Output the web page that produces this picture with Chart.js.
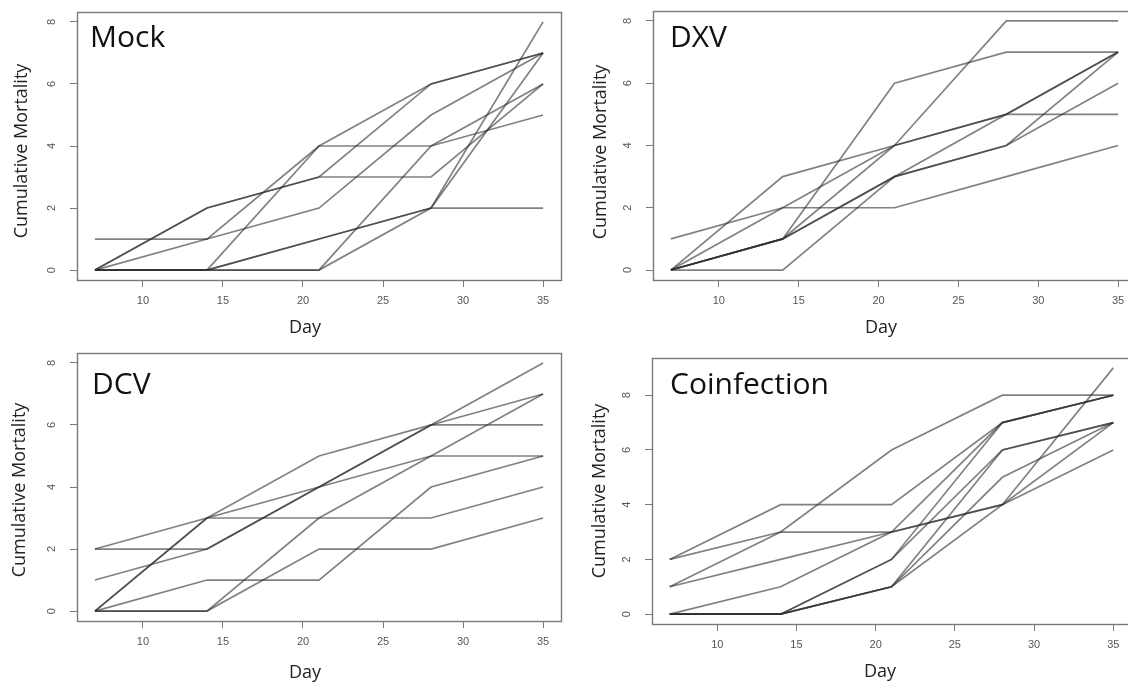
<!DOCTYPE html>
<html><head><meta charset="utf-8">
<script src="https://cdn.jsdelivr.net/npm/chart.js@4/dist/chart.umd.min.js"></script>
<style>
html,body{margin:0;padding:0;background:#fff;overflow:hidden;width:1128px;height:686px;position:relative;}
canvas{position:absolute;display:block;}
</style></head><body>
<canvas id="c0"></canvas><canvas id="c1"></canvas><canvas id="c2"></canvas><canvas id="c3"></canvas>
<script>
// ---- data ----
const days = [7, 14, 21, 28, 35];
const xTickValues = [10, 15, 20, 25, 30, 35];
const yTickValues = [0, 2, 4, 6, 8];
const panelTitles = ["Mock", "DXV", "DCV", "Coinfection"];
const xAxisTitle = "Day";
const yAxisTitle = "Cumulative Mortality";

const mockLines = [
  [1,1,4,6,7],[0,1,2,5,7],[0,2,3,6,7],[0,2,3,3,6],[0,0,4,4,5],
  [0,0,0,4,6],[0,0,1,2,8],[0,0,0,2,7],[0,0,1,2,2]
];
const dxvLines = [
  [0,3,4,5,7],[1,2,2,3,4],[0,1,6,7,7],[0,1,4,8,8],
  [0,1,3,4,7],[0,1,3,4,6],[0,0,3,5,7],[0,2,4,5,5]
];
const dcvLines = [
  [1,2,4,6,8],[2,2,4,6,7],[2,3,5,6,6],[0,3,4,5,5],
  [0,3,3,3,4],[0,1,1,4,5],[0,0,3,5,7],[0,0,2,2,3]
];
const coinfLines = [
  [2,4,4,7,8],[2,3,3,4,6],[1,3,6,8,8],[1,2,3,4,7],[0,1,3,7,8],
  [0,0,2,6,7],[0,0,2,7,8],[0,0,1,6,7],[0,0,1,5,7],[0,0,1,4,9]
];
const yMaxValues = [8, 8, 8, 9];

// ---- layout (pixels) ----
const panels = [
  {id:'c0', lines:mockLines,  left:0,   top:0,   w:564, h:343, L:77, R:561, T:12, B:280, tx:90,  tb:47, dayB:333, ytx:22, yty:151},
  {id:'c1', lines:dxvLines,   left:564, top:0,   w:580, h:343, L:89, R:572, T:11, B:280, tx:106, tb:47, dayB:333, ytx:37, yty:152},
  {id:'c2', lines:dcvLines,   left:0,   top:343, w:564, h:343, L:77, R:561, T:10, B:278, tx:92,  tb:51, dayB:335, ytx:20, yty:147},
  {id:'c3', lines:coinfLines, left:564, top:343, w:580, h:343, L:88, R:567, T:15, B:281, tx:106, tb:51, dayB:334, ytx:36, yty:148}
];

const decor = {
  id: 'decor',
  afterDraw(chart, args, o) {
    const {ctx, chartArea: a, scales: {y}} = chart;
    ctx.save();
    ctx.strokeStyle = '#7a7a7a'; ctx.lineWidth = 1.4;
    ctx.strokeRect(a.left + 0.5, a.top + 0.5, a.right - a.left, a.bottom - a.top);
    // rotated y tick labels
    ctx.fillStyle = '#555';
    ctx.font = '11px "Liberation Sans", Arial, sans-serif';
    ctx.textAlign = 'center'; ctx.textBaseline = 'middle';
    for (const v of yTickValues) {
      const py = y.getPixelForValue(v);
      ctx.save(); ctx.translate(a.left - 25, py); ctx.rotate(-Math.PI / 2);
      ctx.fillText(String(v), 0, 0); ctx.restore();
    }
    // y axis title
    ctx.fillStyle = '#222';
    ctx.font = '18px "Open Sans", sans-serif';
    ctx.save(); ctx.translate(o.ytx, o.yty); ctx.rotate(-Math.PI / 2);
    ctx.fillText(yAxisTitle, 0, 0); ctx.restore();
    // x axis title
    ctx.textBaseline = 'alphabetic';
    ctx.fillText(xAxisTitle, a.left + 228, o.dayB);
    // panel title
    ctx.fillStyle = '#111';
    ctx.font = '30px "Open Sans", sans-serif';
    ctx.textAlign = 'left';
    ctx.fillText(o.title, o.tx, o.tb);
    ctx.restore();
  }
};

panels.forEach((p, k) => {
  const cv = document.getElementById(p.id);
  cv.width = p.w; cv.height = p.h;
  cv.style.left = p.left + 'px'; cv.style.top = p.top + 'px';
  cv.style.width = p.w + 'px'; cv.style.height = p.h + 'px';
  const ymax = yMaxValues[k];
  const datasets = p.lines.map(vals => ({
    data: days.map((d, i) => ({x: d, y: vals[i]})),
    borderColor: 'rgba(45,45,45,0.6)',
    borderWidth: 1.7,
    pointRadius: 0,
    tension: 0,
    fill: false
  }));
  new Chart(cv, {
    type: 'line',
    data: {datasets},
    plugins: [decor],
    options: {
      responsive: false,
      animation: false,
      devicePixelRatio: 1,
      layout: {padding: {left: 0, right: p.w - p.R, top: p.T, bottom: 0}},
      plugins: {
        legend: {display: false},
        tooltip: {enabled: false},
        decor: {title: panelTitles[k], tx: p.tx, tb: p.tb, dayB: p.dayB, ytx: p.ytx, yty: p.yty}
      },
      scales: {
        x: {
          type: 'linear',
          min: 7 - 0.04 * 28, max: 35 + 0.04 * 28,
          afterBuildTicks: s => { s.ticks = xTickValues.map(v => ({value: v})); },
          afterFit: s => { s.height = p.h - p.B; },
          border: {display: false},
          grid: {drawOnChartArea: false, drawTicks: true, tickLength: 7, color: '#7a7a7a', lineWidth: 1},
          ticks: {color: '#555', font: {size: 11, family: '"Liberation Sans", Arial, sans-serif'}, padding: 7, maxRotation: 0, autoSkip: false}
        },
        y: {
          type: 'linear',
          min: -0.04 * ymax, max: ymax * 1.04,
          afterBuildTicks: s => { s.ticks = yTickValues.map(v => ({value: v})); },
          afterFit: s => { s.width = p.L; },
          border: {display: false},
          grid: {drawOnChartArea: false, drawTicks: true, tickLength: 7, color: '#7a7a7a', lineWidth: 1},
          ticks: {display: false}
        }
      }
    }
  });
});
</script>
</body></html>
